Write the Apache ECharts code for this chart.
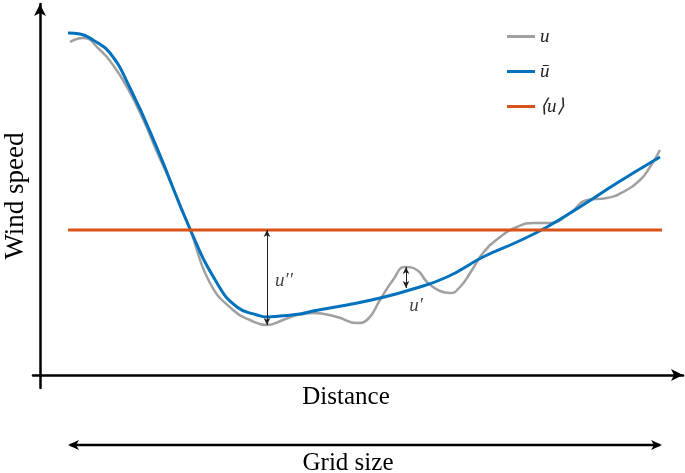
<!DOCTYPE html>
<html>
<head>
<meta charset="utf-8">
<script src="https://cdn.jsdelivr.net/npm/echarts@6/dist/echarts.min.js"></script>
<style>html,body{margin:0;padding:0;background:#fff}#c{width:685px;height:473px}</style>
</head>
<body>
<div id="c"></div>
<script>
// Instantaneous wind speed u (grey)
const uX = [3.0, 4.3, 6.0, 7.3, 8.7, 10.3, 11.7, 13.0, 14.3, 15.0, 17.0, 19.3, 21.0, 22.7, 24.3, 25.7, 27.3, 29.7, 31.7, 32.8, 34.0, 35.3, 36.5, 37.7, 38.7, 40.0, 41.0, 42.0, 43.2, 44.3, 46.0, 47.7, 49.3, 51.0, 53.0, 54.7, 56.7, 58.3, 60.0, 61.0, 62.0];
const uY = [33.3, 33.7, 32.5, 31.0, 28.8, 25.6, 22.3, 19.4, 16.3, 14.6, 9.2, 6.5, 5.5, 5.0, 5.5, 6.0, 6.2, 5.8, 5.2, 5.6, 7.5, 9.5, 10.8, 10.5, 9.3, 8.4, 8.2, 8.8, 10.5, 12.2, 13.8, 14.8, 15.2, 15.2, 16.2, 17.5, 17.7, 18.3, 19.5, 20.8, 22.5];
// Filtered wind speed u-bar (blue)
const ubX = [2.8, 4.0, 5.3, 7.0, 9.0, 11.7, 15.0, 17.7, 19.7, 21.7, 22.7, 24.0, 26.0, 27.3, 30.7, 34.0, 37.3, 40.7, 44.3, 47.7, 50.7, 54.3, 57.7, 62.0];
const ubY = [34.2, 34.1, 33.5, 32.2, 28.7, 22.7, 14.6, 9.2, 6.8, 6.0, 5.8, 5.9, 6.1, 6.4, 7.0, 7.7, 8.6, 9.8, 11.8, 13.3, 14.8, 17.0, 19.2, 21.8];
// Mean wind speed <u> (orange)
const meanX = [2.8, 62.2];
const meanY = [14.5, 14.5];
// Annotations: [x, yTop, yBottom]
const uDoublePrimeArrow = [22.7, 14.5, 5.0];
const uPrimeArrow = [36.6, 10.8, 8.7];
const labelX = [24.4, 37.6];
const labelY = [9.4, 6.9];
const labelText = ['u\u2032\u2032', 'u\u2032'];
const gridSizeRange = [2.8, 62.2];
const seriesNames = ['u', '\u016b', '\u27e8u\u27e9'];

const pairs = (xs, ys) => xs.map((x, i) => [x, ys[i]]);

const chart = echarts.init(document.getElementById('c'), null, {renderer: 'canvas'});
const serif = 'Liberation Serif, Times New Roman, serif';
const option = {
  animation: false,
  grid: {left: 33, right: 2, top: 4, bottom: 85, containLabel: false, outerBoundsMode: 'none'},
  xAxis: {
    type: 'value', min: -0.7, max: 64.3,
    axisLine: {onZero: true, lineStyle: {color: '#000', width: 2.5}, symbol: ['none', 'arrow'], symbolSize: [9, 12]},
    axisTick: {show: false}, axisLabel: {show: false}, splitLine: {show: false},
    name: 'Distance', nameLocation: 'middle', nameGap: -3,
    nameTextStyle: {fontFamily: serif, fontSize: 25, color: '#000', padding: [0, 24, 0, 0], verticalAlign: 'top'}
  },
  yAxis: {
    type: 'value', min: -1.3, max: 37.1,
    axisLine: {onZero: true, lineStyle: {color: '#000', width: 2.5}, symbol: ['none', 'arrow'], symbolSize: [9, 12]},
    axisTick: {show: false}, axisLabel: {show: false}, splitLine: {show: false},
    name: 'Wind speed', nameLocation: 'middle', nameGap: 4, nameRotate: 90,
    nameTextStyle: {fontFamily: serif, fontSize: 27, color: '#000'}
  },
  legend: {
    data: seriesNames, orient: 'vertical', left: 502, top: 22,
    icon: 'rect', itemWidth: 28, itemHeight: 3, itemGap: 16,
    textStyle: {fontFamily: serif, fontStyle: 'italic', fontSize: 19, color: '#222'}
  },
  series: [
    {name: seriesNames[0], type: 'line', data: pairs(uX, uY), smooth: 0.5, symbol: 'none',
     lineStyle: {color: '#a0a0a0', width: 2.5}, itemStyle: {color: '#a0a0a0'}},
    {name: seriesNames[1], type: 'line', data: pairs(ubX, ubY), smooth: 0.5, symbol: 'none',
     lineStyle: {color: '#0072bd', width: 3}, itemStyle: {color: '#0072bd'}},
    {name: seriesNames[2], type: 'line', data: pairs(meanX, meanY), symbol: 'none',
     lineStyle: {color: '#d95319', width: 3}, itemStyle: {color: '#d95319'}},
    {name: 'annotations', type: 'scatter', symbolSize: 0, silent: true,
     data: labelX.map((x, i) => ({value: [x, labelY[i]], label: {show: true, formatter: labelText[i]}})),
     label: {show: true, position: 'inside', fontFamily: serif, fontStyle: 'italic', fontSize: 19, color: '#111'},
     markLine: {
       silent: true, symbol: ['arrow', 'arrow'], symbolSize: [5, 7],
       lineStyle: {color: '#222', width: 1, type: 'solid'}, label: {show: false},
       data: [
         [{coord: [uDoublePrimeArrow[0], uDoublePrimeArrow[1]]}, {coord: [uDoublePrimeArrow[0], uDoublePrimeArrow[2]]}],
         [{coord: [uPrimeArrow[0], uPrimeArrow[1]]}, {coord: [uPrimeArrow[0], uPrimeArrow[2]]}]
       ]
     }}
  ]
};
chart.setOption(option);

// Grid-size double arrow below the axis
const p0 = chart.convertToPixel({gridIndex: 0}, [gridSizeRange[0], 0]);
const p1 = chart.convertToPixel({gridIndex: 0}, [gridSizeRange[1], 0]);
const ay = 445;
chart.setOption({
  graphic: [
    {type: 'line', shape: {x1: p0[0] + 2, y1: ay, x2: p1[0] - 2, y2: ay}, style: {stroke: '#000', lineWidth: 2.5}},
    {type: 'polygon', shape: {points: [[p0[0], ay], [p0[0] + 11, ay - 5], [p0[0] + 8, ay], [p0[0] + 11, ay + 5]]}, style: {fill: '#000'}},
    {type: 'polygon', shape: {points: [[p1[0], ay], [p1[0] - 11, ay - 5], [p1[0] - 8, ay], [p1[0] - 11, ay + 5]]}, style: {fill: '#000'}},
    {type: 'text', x: (p0[0] + p1[0]) / 2 - 17, y: 463, style: {text: 'Grid size', font: '25px ' + serif, fill: '#000', align: 'center', verticalAlign: 'middle'}}
  ]
});
</script>
</body>
</html>
